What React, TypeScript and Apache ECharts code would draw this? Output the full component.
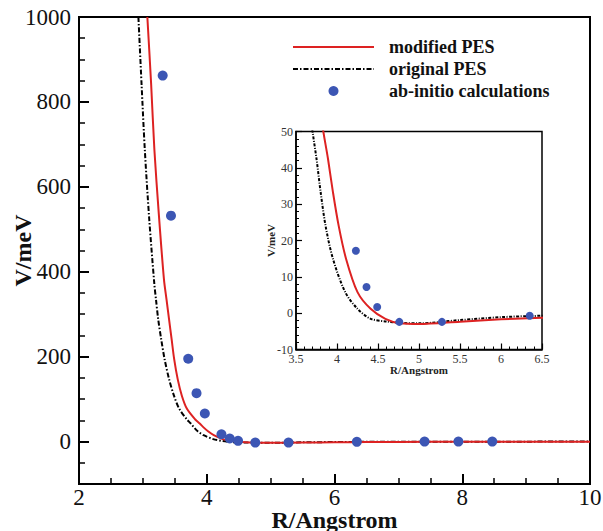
import React, { useEffect, useRef } from "react";
import * as echarts from "echarts";

const modX = [3.07, 3.13, 3.18, 3.25, 3.33, 3.37, 3.41, 3.45, 3.49, 3.545, 3.61, 3.69, 3.82, 3.89, 3.95, 4.02, 4.11, 4.25, 4.41, 4.59, 4.77, 5.0, 5.5, 6.0, 6.5, 7.0, 8.0, 9.0, 10.0];
const modY = [1000, 840, 688, 535, 382, 335, 288, 241, 194, 147, 108, 77, 52, 42.5, 33.4, 24.1, 15, 5.8, 1.2, -1.55, -2.8, -3.0, -2.35, -1.7, -1.25, -0.9, -0.5, -0.3, -0.2];

const origX = [2.93, 2.98, 3.03, 3.10, 3.18, 3.205, 3.24, 3.287, 3.34, 3.41, 3.487, 3.57, 3.69, 3.75, 3.80, 3.86, 3.95, 4.10, 4.25, 4.41, 4.61, 4.8, 5.0, 5.5, 6.0, 6.5, 7.0, 8.0, 9.0, 10.0];
const origY = [1000, 840, 688, 523, 370, 335, 288, 241, 194, 147, 108, 77, 52, 42.5, 33.4, 24.1, 15, 5.8, 1.2, -1.55, -2.3, -2.7, -2.8, -1.9, -1.1, -0.7, -0.5, -0.3, -0.2, -0.1];

const abX = [3.31, 3.44, 3.71, 3.84, 3.97, 4.23, 4.36, 4.49, 4.76, 5.28, 6.35, 7.41, 7.94, 8.47];
const abY = [862, 532, 195, 114, 66, 17.2, 7.2, 1.7, -2.4, -2.4, -0.7, 0, 0, 0];

const mainYLabels = [0, 200, 400, 600, 800, 1000];

const names = ["modified PES", "original PES", "ab-initio calculations"];

const SERIF = '"Liberation Serif", "DejaVu Serif", serif';
const RED = "#dd2222";
const BLUE = "#3c56b4";

const pairs = (xs: number[], ys: number[]) => xs.map((x, i) => [x, ys[i]]);
const plain = (v: number) => String(v);

export default function App() {
  const ref = useRef<HTMLDivElement>(null);
  useEffect(() => {
    document.body.style.margin = "0";
    const chart = echarts.init(ref.current!, null, { renderer: "svg" });
    const modData = pairs(modX, modY);
    const origData = pairs(origX, origY);
    const abData = pairs(abX, abY);
    chart.setOption({
      animation: false,
      backgroundColor: "#fff",
      legend: {
        left: 292,
        top: 38,
        padding: 0,
        orient: "vertical",
        itemWidth: 81,
        itemHeight: 10,
        itemGap: 4,
        selectedMode: false,
        data: [
          { name: names[0], itemStyle: { opacity: 0 } },
          { name: names[1], itemStyle: { opacity: 0 } },
          { name: names[2] },
        ],
        textStyle: { fontFamily: SERIF, fontWeight: "bold", fontSize: 18, color: "#111", padding: [0, 0, 0, 10] },
      },
      grid: [
        { left: 79, top: 17, width: 511, height: 467, show: true, borderColor: "#000", borderWidth: 2, backgroundColor: "transparent", outerBoundsMode: "none", containLabel: false },
        { left: 296, top: 131.5, width: 246, height: 218, show: true, borderColor: "#000", borderWidth: 1.5, backgroundColor: "#fff", outerBoundsMode: "none", containLabel: false },
      ],
      xAxis: [
        {
          type: "value", gridIndex: 0, min: 2, max: 10, interval: 2,
          axisLine: { onZero: false, lineStyle: { color: "#000", width: 2 } },
          axisTick: { inside: true, length: 10, lineStyle: { color: "#000", width: 2 } },
          minorTick: { show: true, splitNumber: 4, length: 6, lineStyle: { color: "#000", width: 1.5 } },
          splitLine: { show: false },
          axisLabel: { fontFamily: SERIF, fontSize: 23, lineHeight: 18, color: "#111", margin: 4, formatter: plain },
          name: "R/Angstrom", nameLocation: "middle", nameGap: 27, nameMoveOverlap: false,
          nameTextStyle: { fontFamily: SERIF, fontWeight: "bold", fontSize: 24, lineHeight: 18, color: "#111" },
        },
        {
          type: "value", gridIndex: 1, min: 3.5, max: 6.5, interval: 0.5,
          axisLine: { onZero: false, lineStyle: { color: "#000", width: 1.5 } },
          axisTick: { inside: true, length: 6, lineStyle: { color: "#000", width: 1.2 } },
          minorTick: { show: true, splitNumber: 5, length: 3, lineStyle: { color: "#000", width: 1 } },
          splitLine: { show: false },
          axisLabel: { fontFamily: SERIF, fontSize: 12, lineHeight: 12, color: "#333", margin: 3, formatter: plain },
          name: "R/Angstrom", nameLocation: "middle", nameGap: 15, nameMoveOverlap: false,
          nameTextStyle: { fontFamily: SERIF, fontWeight: "bold", fontSize: 11, lineHeight: 11, color: "#222" },
        },
      ],
      yAxis: [
        {
          type: "value", gridIndex: 0, min: -100, max: 1000, interval: 50,
          axisLine: { onZero: false, lineStyle: { color: "#000", width: 2 } },
          axisTick: { inside: true, length: 6, lineStyle: { color: "#000", width: 1.5 } },
          splitLine: { show: false },
          axisLabel: { fontFamily: SERIF, fontSize: 23, color: "#111", margin: 8, customValues: mainYLabels, formatter: plain },
          name: "V/meV", nameLocation: "middle", nameGap: 44, nameMoveOverlap: false,
          nameTextStyle: { fontFamily: SERIF, fontWeight: "bold", fontSize: 24, color: "#111" },
        },
        {
          type: "value", gridIndex: 0, min: -100, max: 1000, position: "left",
          axisLine: { show: false, onZero: false },
          axisTick: { inside: true, length: 10, lineStyle: { color: "#000", width: 2 }, customValues: mainYLabels },
          axisLabel: { show: false },
          splitLine: { show: false },
        },
        {
          type: "value", gridIndex: 1, min: -10, max: 50, interval: 10,
          axisLine: { onZero: false, lineStyle: { color: "#000", width: 1.5 } },
          axisTick: { inside: true, length: 6, lineStyle: { color: "#000", width: 1.2 } },
          minorTick: { show: true, splitNumber: 5, length: 3, lineStyle: { color: "#000", width: 1 } },
          splitLine: { show: false },
          axisLabel: { fontFamily: SERIF, fontSize: 12, color: "#333", margin: 3, formatter: plain },
          name: "V/meV", nameLocation: "middle", nameGap: 20, nameMoveOverlap: false,
          nameTextStyle: { fontFamily: SERIF, fontWeight: "bold", fontSize: 11, color: "#222" },
        },
      ],
      series: [
        {
          type: "line", name: names[0], xAxisIndex: 0, yAxisIndex: 0, data: modData,
          symbol: "none", showSymbol: false, smooth: 0.3, clip: true,
          lineStyle: { color: RED, width: 2 }, itemStyle: { color: RED }, z: 3,
        },
        {
          type: "line", name: names[1], xAxisIndex: 0, yAxisIndex: 0, data: origData,
          symbol: "none", showSymbol: false, smooth: 0.3, clip: true,
          lineStyle: { color: "#000", width: 2, type: [5, 2, 1.5, 2] }, itemStyle: { color: "#000" }, z: 2,
        },
        {
          type: "scatter", name: names[2], xAxisIndex: 0, yAxisIndex: 0, data: abData,
          symbol: "circle", symbolSize: 10, itemStyle: { color: BLUE, opacity: 1 }, z: 4,
        },
        {
          type: "line", name: names[0], xAxisIndex: 1, yAxisIndex: 2, data: modData,
          symbol: "none", showSymbol: false, smooth: 0.3, clip: true,
          lineStyle: { color: RED, width: 2 }, itemStyle: { color: RED }, z: 3,
        },
        {
          type: "line", name: names[1], xAxisIndex: 1, yAxisIndex: 2, data: origData,
          symbol: "none", showSymbol: false, smooth: 0.3, clip: true,
          lineStyle: { color: "#000", width: 2, type: [3, 1.5, 1, 1.5] }, itemStyle: { color: "#000" }, z: 2,
        },
        {
          type: "scatter", name: names[2], xAxisIndex: 1, yAxisIndex: 2, data: abData,
          symbol: "circle", symbolSize: 8, clip: true, itemStyle: { color: BLUE, opacity: 1 }, z: 4,
        },
      ],
    });
    return () => chart.dispose();
  }, []);
  return <div ref={ref} style={{ width: 603, height: 531 }} />;
}
